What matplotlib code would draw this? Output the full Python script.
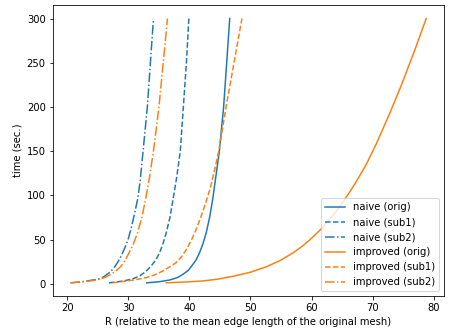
import matplotlib
matplotlib.use("Agg")
import matplotlib.pyplot as plt

# naive (orig)
naive_orig_R = [33.0, 35.0, 36.7, 38.0, 38.9, 39.8, 40.55, 41.1, 41.65, 42.2, 42.75, 43.3, 43.8,
                44.3, 44.9, 45.6, 46.1, 46.6]
naive_orig_t = [1, 2.2, 4.1, 6.8, 10.5, 15, 21.8, 27, 35, 45, 57.7, 75, 95, 120, 150, 200, 250, 300]
# naive (sub1)
naive_sub1_R = [26.8, 28.3, 29.6, 30.8, 31.8, 32.8, 33.7, 34.5, 35.1, 35.7, 36.2, 36.8, 37.3,
                37.9, 38.5, 39.0, 39.5, 39.9]
naive_sub1_t = [1, 2.2, 3.7, 5.8, 8.6, 13.5, 19.9, 27, 35, 46, 57.7, 75, 95, 120, 150, 200, 250, 300]
# naive (sub2)
naive_sub2_R = [20.5, 22.0, 23.0, 24.2, 25.2, 26.0, 26.85, 27.6, 28.2, 28.8, 29.3, 29.9, 30.4,
                30.9, 31.5, 31.9, 32.4, 33.1, 33.6, 34.1]
naive_sub2_t = [1, 1.9, 2.9, 4.2, 5.6, 8, 12.4, 17.5, 23.7, 31, 38.8, 49, 61.4, 76, 95.3, 115,
                150, 200, 250, 300]
# improved (orig)
impr_orig_R = [36.2, 39.5, 42.0, 44.5, 47.3, 50.0, 52.6, 54.8, 57.0, 58.5, 59.7, 61.3, 62.6,
               63.7, 64.8, 66.0, 67.2, 68.9, 70.6, 72.9, 74.8, 76.8, 78.8]
impr_orig_t = [1, 2, 3, 5, 8.6, 13, 19.2, 26, 35, 42.5, 49.5, 60, 70, 79, 89, 101, 114, 134, 158,
               194, 226, 262, 300]
# improved (sub1)
impr_sub1_R = [27.4, 29.6, 31.2, 32.9, 34.3, 35.6, 36.7, 37.8, 38.7, 39.5, 40.3, 41.1, 41.9,
               42.75, 43.4, 44.1, 44.8, 46.0, 47.3, 48.6]
impr_sub1_t = [1, 2.9, 4.6, 6.8, 10, 14.3, 18.8, 23.7, 30.5, 38.8, 49, 61.4, 76, 93.4, 108,
               128, 150, 200, 250, 300]
# improved (sub2)
impr_sub2_R = [20.5, 22.3, 23.8, 25.2, 26.2, 27.1, 28.0, 28.8, 29.5, 30.1, 30.8, 31.5, 32.2,
               32.8, 33.4, 34.1, 35.0, 35.7, 36.4]
impr_sub2_t = [1, 2.1, 3.2, 4.9, 7.2, 10.5, 14.8, 19.9, 27, 35, 45, 57.7, 75, 95.3, 118, 150,
               200, 250, 300]

labels = ["naive (orig)", "naive (sub1)", "naive (sub2)",
          "improved (orig)", "improved (sub1)", "improved (sub2)"]

fig = plt.figure(figsize=(451 / 72, 333 / 72), dpi=72)
ax = fig.add_axes([0.1168, 0.111, 0.8677, 0.873])

c1, c2 = "#1f77b4", "#ff7f0e"
ax.plot(naive_orig_R, naive_orig_t, "-", color=c1, label=labels[0])
ax.plot(naive_sub1_R, naive_sub1_t, "--", color=c1, label=labels[1])
ax.plot(naive_sub2_R, naive_sub2_t, "-.", color=c1, label=labels[2])
ax.plot(impr_orig_R, impr_orig_t, "-", color=c2, label=labels[3])
ax.plot(impr_sub1_R, impr_sub1_t, "--", color=c2, label=labels[4])
ax.plot(impr_sub2_R, impr_sub2_t, "-.", color=c2, label=labels[5])

ax.set_xlabel("R (relative to the mean edge length of the original mesh)")
ax.set_ylabel("time (sec.)")
ax.set_xticks([20, 30, 40, 50, 60, 70, 80])
ax.set_yticks([0, 50, 100, 150, 200, 250, 300])
ax.legend(loc="lower right")

fig.savefig("out.png", dpi=72)
